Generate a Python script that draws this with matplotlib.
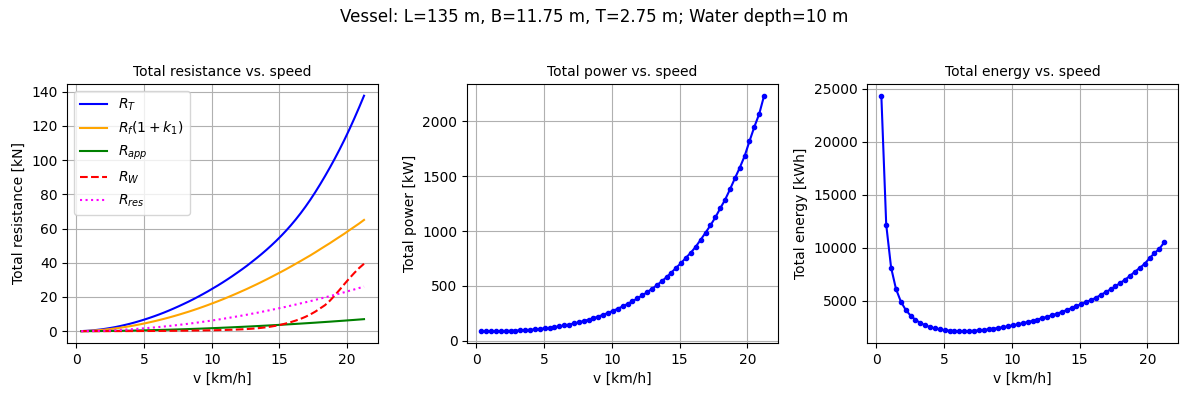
import numpy as np
import matplotlib
matplotlib.use('Agg')
import matplotlib.pyplot as plt

# speeds [km/h]
v = [0.36, 0.72, 1.08, 1.44, 1.80, 2.16, 2.52, 2.88, 3.24, 3.60,
     3.96, 4.32, 4.68, 5.04, 5.40, 5.76, 6.12, 6.48, 6.84, 7.20,
     7.56, 7.92, 8.28, 8.64, 9.00, 9.36, 9.72, 10.08, 10.44, 10.80,
     11.16, 11.52, 11.88, 12.24, 12.60, 12.96, 13.32, 13.68, 14.04, 14.40,
     14.76, 15.12, 15.48, 15.84, 16.20, 16.56, 16.92, 17.28, 17.64, 18.00,
     18.36, 18.72, 19.08, 19.44, 19.80, 20.16, 20.52, 20.88, 21.24]

# resistance components [kN]
R_T = [0.04, 0.17, 0.38, 0.67, 0.99, 1.41, 1.87, 2.39, 2.99, 3.65,
       4.34, 5.11, 5.94, 6.82, 7.76, 8.75, 9.79, 10.89, 12.06, 13.29,
       14.56, 15.89, 17.24, 18.68, 20.17, 21.72, 23.31, 25.00, 26.67, 28.45,
       30.29, 32.19, 34.17, 36.18, 38.27, 40.50, 42.75, 45.10, 47.55, 50.12,
       52.82, 55.67, 58.69, 61.89, 65.29, 68.91, 72.77, 76.87, 81.22, 85.82,
       90.62, 95.62, 100.82, 106.27, 111.97, 117.97, 124.27, 130.82, 137.62]
R_f = [0.03, 0.12, 0.26, 0.45, 0.67, 0.95, 1.26, 1.61, 2.00, 2.44,
       2.90, 3.41, 3.96, 4.54, 5.16, 5.81, 6.50, 7.22, 7.98, 8.78,
       9.61, 10.48, 11.36, 12.29, 13.26, 14.26, 15.29, 16.37, 17.45, 18.58,
       19.75, 20.95, 22.18, 23.44, 24.71, 26.06, 27.40, 28.80, 30.22, 31.68,
       33.17, 34.66, 36.18, 37.77, 39.39, 41.00, 42.66, 44.31, 46.06, 47.88,
       49.67, 51.43, 53.32, 55.18, 57.04, 59.03, 60.96, 62.92, 65.02]
R_app = [0.00, 0.01, 0.03, 0.05, 0.07, 0.10, 0.14, 0.17, 0.22, 0.26,
         0.31, 0.37, 0.43, 0.49, 0.56, 0.63, 0.70, 0.78, 0.86, 0.95,
         1.04, 1.13, 1.23, 1.33, 1.43, 1.54, 1.65, 1.77, 1.88, 2.01,
         2.13, 2.26, 2.40, 2.53, 2.67, 2.81, 2.96, 3.11, 3.26, 3.42,
         3.58, 3.74, 3.91, 4.08, 4.25, 4.43, 4.61, 4.79, 4.97, 5.17,
         5.36, 5.55, 5.76, 5.96, 6.16, 6.38, 6.58, 6.80, 7.02]
R_W = [0.00, 0.00, 0.00, 0.01, 0.01, 0.02, 0.02, 0.03, 0.04, 0.05,
       0.06, 0.07, 0.08, 0.10, 0.11, 0.13, 0.15, 0.17, 0.20, 0.22,
       0.25, 0.28, 0.31, 0.35, 0.39, 0.43, 0.48, 0.54, 0.60, 0.67,
       0.75, 0.85, 0.96, 1.09, 1.25, 1.44, 1.67, 1.95, 2.30, 2.72,
       3.2, 3.8, 4.5, 5.3, 6.2, 7.2, 8.4, 9.8, 11.4, 13.3,
       15.2, 17.8, 20.9, 24.2, 27.6, 30.9, 34.0, 36.9, 39.4]
R_res = [0.01, 0.04, 0.09, 0.16, 0.24, 0.34, 0.45, 0.58, 0.73, 0.90,
         1.07, 1.26, 1.47, 1.69, 1.93, 2.18, 2.44, 2.72, 3.02, 3.34,
         3.66, 4.00, 4.34, 4.71, 5.09, 5.49, 5.89, 6.32, 6.74, 7.19,
         7.66, 8.13, 8.63, 9.12, 9.64, 10.19, 10.71, 11.29, 11.85, 12.45,
         13.04, 13.66, 14.25, 14.92, 15.56, 16.24, 16.89, 17.55, 18.29, 19.01,
         19.77, 20.47, 21.22, 22.02, 22.76, 23.61, 24.38, 25.23, 26.07]

# total power [kW]
P_tot = [87.6, 87.7, 87.9, 88.3, 88.9, 89.8, 91.1, 92.7, 94.7, 97.3,
         100.2, 103.8, 108.0, 112.9, 118.4, 124.6, 131.6, 139.5, 148.2, 157.9,
         168.5, 180.1, 192.5, 206.2, 221.0, 237.0, 254.1, 272.8, 292.2, 313.4,
         336.0, 360.1, 385.9, 413.0, 442.0, 473.3, 505.9, 541.5, 580, 622,
         667, 709, 758, 804, 858, 921, 985, 1052, 1124, 1206,
         1285, 1379, 1479, 1576, 1682, 1818, 1949, 2067, 2233]

# total energy [kWh]
E_tot = [24333, 12181, 8139, 6132, 4939, 4157, 3615, 3219, 2923, 2703,
         2530, 2403, 2308, 2240, 2193, 2163, 2150, 2153, 2167, 2193,
         2229, 2274, 2325, 2387, 2456, 2532, 2614, 2706, 2799, 2902,
         3011, 3126, 3248, 3374, 3508, 3652, 3798, 3958, 4131, 4319,
         4519, 4689, 4897, 5076, 5296, 5562, 5822, 6088, 6372, 6700,
         6999, 7367, 7751, 8107, 8495, 9018, 9498, 9899, 10513]

fig, axs = plt.subplots(1, 3, figsize=(11.89, 3.96), dpi=100)
fig.subplots_adjust(left=0.0564, right=0.991, bottom=0.134, top=0.788, wspace=0.286)
fig.suptitle('Vessel: L=135 m, B=11.75 m, T=2.75 m; Water depth=10 m', fontsize=12)

#Resistance
ax = axs[0]
ax.plot(v, R_T, color='blue', label='$R_T$')
ax.plot(v, R_f, color='orange', label='$R_f(1+k_1)$')
ax.plot(v, R_app, color='green', label='$R_{app}$')
ax.plot(v, R_W, '--', color='red', label='$R_W$')
ax.plot(v, R_res, ':', color='magenta', label='$R_{res}$')
ax.set_title('Total resistance vs. speed', fontsize=10)
ax.set_xlabel('v [km/h]')
ax.set_ylabel('Total resistance [kN]')
ax.set_xticks([0, 5, 10, 15, 20])
ax.legend(loc='upper left')
ax.grid()

#Power
ax = axs[1]
ax.plot(v, P_tot, 'b.-')
ax.set_title('Total power vs. speed', fontsize=10)
ax.set_xlabel('v [km/h]')
ax.set_ylabel('Total power [kW]')
ax.set_xticks([0, 5, 10, 15, 20])
ax.grid()

#Energy
ax = axs[2]
ax.plot(v, E_tot, 'b.-')
ax.set_title('Total energy vs. speed', fontsize=10)
ax.set_xlabel('v [km/h]')
ax.set_ylabel('Total energy [kWh]')
ax.set_xticks([0, 5, 10, 15, 20])
ax.grid()

plt.savefig('out.png')
